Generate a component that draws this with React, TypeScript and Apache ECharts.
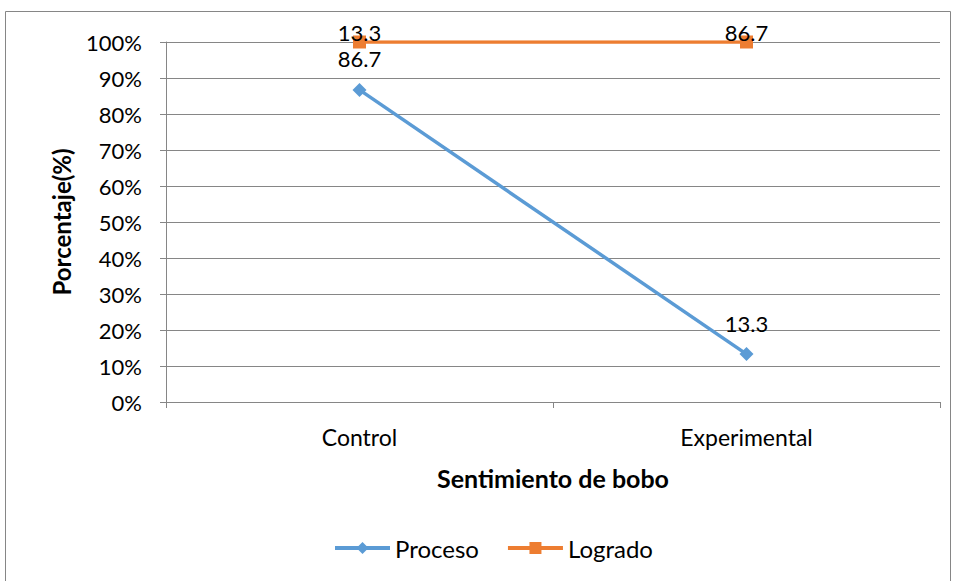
import React, { useEffect, useRef } from "react";
import * as echarts from "echarts";

const categories = ["Control", "Experimental"];
const proceso = [86.7, 13.3];
const logrado = [13.3, 86.7];
const yTicks = [0, 10, 20, 30, 40, 50, 60, 70, 80, 90, 100];

const FONT = "Lato";

export default function App() {
  const ref = useRef<HTMLDivElement>(null);
  useEffect(() => {
    if (!ref.current) return;
    const chart = echarts.init(ref.current, null, { renderer: "svg" });
    chart.setOption({
      animation: false,
      backgroundColor: "#ffffff",
      textStyle: { fontFamily: FONT, color: "#000" },
      graphic: [
        {
          type: "rect",
          shape: { x: 5.5, y: 11.5, width: 945, height: 575 },
          style: { fill: "none", stroke: "#868686", lineWidth: 1 },
          silent: true,
        },
      ],
      grid: { left: 166, right: 15, top: 42, bottom: 179, containLabel: false },
      legend: {
        top: 531,
        left: 328,
        itemWidth: 55,
        itemHeight: 15,
        itemGap: 27,
        lineStyle: { width: 4 },
        textStyle: { fontFamily: FONT, fontSize: 24, color: "#000" },
        data: ["Proceso", "Logrado"],
      },
      xAxis: {
        type: "category",
        data: categories,
        boundaryGap: true,
        name: "Sentimiento de bobo",
        nameLocation: "middle",
        nameGap: 63,
        nameTextStyle: { fontFamily: FONT, fontSize: 25, fontWeight: "bold", color: "#000" },
        axisLine: { lineStyle: { color: "#868686", width: 1 } },
        axisTick: { show: true, length: 6, lineStyle: { color: "#868686" }, alignWithLabel: false },
        axisLabel: { fontFamily: FONT, fontSize: 23, color: "#000", margin: 23 },
      },
      yAxis: {
        type: "value",
        min: yTicks[0],
        max: yTicks[yTicks.length - 1],
        interval: 10,
        name: "Porcentaje(%)",
        nameLocation: "middle",
        nameGap: 93,
        nameTextStyle: { fontFamily: FONT, fontSize: 24, fontWeight: "bold", color: "#000" },
        axisLine: { show: true, lineStyle: { color: "#868686", width: 1 } },
        axisTick: { show: true, length: 6, lineStyle: { color: "#868686" } },
        axisLabel: { fontFamily: FONT, fontSize: 22, color: "#000", margin: 24, formatter: "{value}%" },
        splitLine: { show: true, lineStyle: { color: "#868686", width: 1 } },
      },
      series: [
        {
          name: "Proceso",
          type: "line",
          stack: "total",
          data: proceso,
          color: "#5B9BD5",
          lineStyle: { width: 3.5, color: "#5B9BD5" },
          symbol: "diamond",
          symbolSize: 14,
          itemStyle: { color: "#5B9BD5" },
          label: {
            show: true,
            position: "top",
            distance: 13,
            fontFamily: FONT,
            fontSize: 22,
            color: "#000",
          },
        },
        {
          name: "Logrado",
          type: "line",
          stack: "total",
          data: logrado,
          color: "#ED7D31",
          lineStyle: { width: 3.5, color: "#ED7D31" },
          symbol: "rect",
          symbolSize: 13,
          itemStyle: { color: "#ED7D31" },
          label: {
            show: true,
            position: "top",
            distance: 0,
            offset: [0, 8],
            fontFamily: FONT,
            fontSize: 22,
            color: "#000",
          },
        },
      ],
    });
    return () => chart.dispose();
  }, []);
  return <div ref={ref} style={{ width: 955, height: 581, position: "absolute", left: 0, top: 0 }} />;
}
